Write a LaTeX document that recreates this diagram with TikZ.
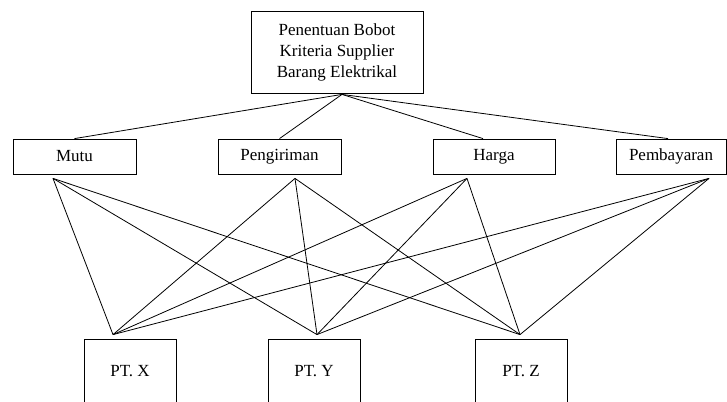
\documentclass[tikz,border=0pt]{standalone}
\usepackage{fontspec}
\setmainfont{Liberation Serif}
\usetikzlibrary{calc}
\begin{document}
\begin{tikzpicture}[x=1pt,y=-1pt,
  box/.style={draw,line width=0.8pt,inner sep=0pt,align=center,font=\fontsize{17}{21}\selectfont},
  link/.style={line width=0.8pt}]
\useasboundingbox (0,0) rectangle (727,401);
\node[box,minimum width=172pt,minimum height=82pt] (top) at (337,52) {Penentuan Bobot\\Kriteria Supplier\\Barang Elektrikal};
\node[box,minimum width=123pt,minimum height=35pt] (mutu) at (74.5,156.5) {Mutu};
\node[box,minimum width=123pt,minimum height=35pt] (peng) at (279.5,156.5) {Pengiriman};
\node[box,minimum width=122pt,minimum height=35pt] (harga) at (494,156.5) {Harga};
\node[box,minimum width=110pt,minimum height=35pt] (pemb) at (671,156.5) {Pembayaran};
\node[box,minimum width=92pt,minimum height=64pt] (ptx) at (130,371) {PT. X};
\node[box,minimum width=92pt,minimum height=64pt] (pty) at (314,371) {PT. Y};
\node[box,minimum width=92pt,minimum height=64pt] (ptz) at (521,371) {PT. Z};
% convergence points
\coordinate (tc) at ($(top.south)+(5,1)$);
\coordinate (mutuT) at (mutu.north);
\coordinate (pengT) at (peng.north);
\coordinate (hargaT) at ($(harga.north)+(-11,0)$);
\coordinate (pembT) at ($(pemb.north)+(-3,0)$);
\coordinate (mutuB) at ($(mutu.south)+(-21.5,4)$);
\coordinate (pengB) at ($(peng.south)+(15.5,4)$);
\coordinate (hargaB) at ($(harga.south)+(-27,4)$);
\coordinate (pembB) at ($(pemb.south)+(38,4)$);
\coordinate (ptxT) at ($(ptx.north)+(-17,-4)$);
\coordinate (ptyT) at ($(pty.north)+(3,-4)$);
\coordinate (ptzT) at ($(ptz.north)+(-1,-4)$);
\foreach \m in {mutuT,pengT,hargaT,pembT}{\draw[link] (tc) -- (\m);}
\foreach \m in {mutuB,pengB,hargaB,pembB}{
  \foreach \p in {ptxT,ptyT,ptzT}{\draw[link] (\m) -- (\p);}}
\end{tikzpicture}
\end{document}
